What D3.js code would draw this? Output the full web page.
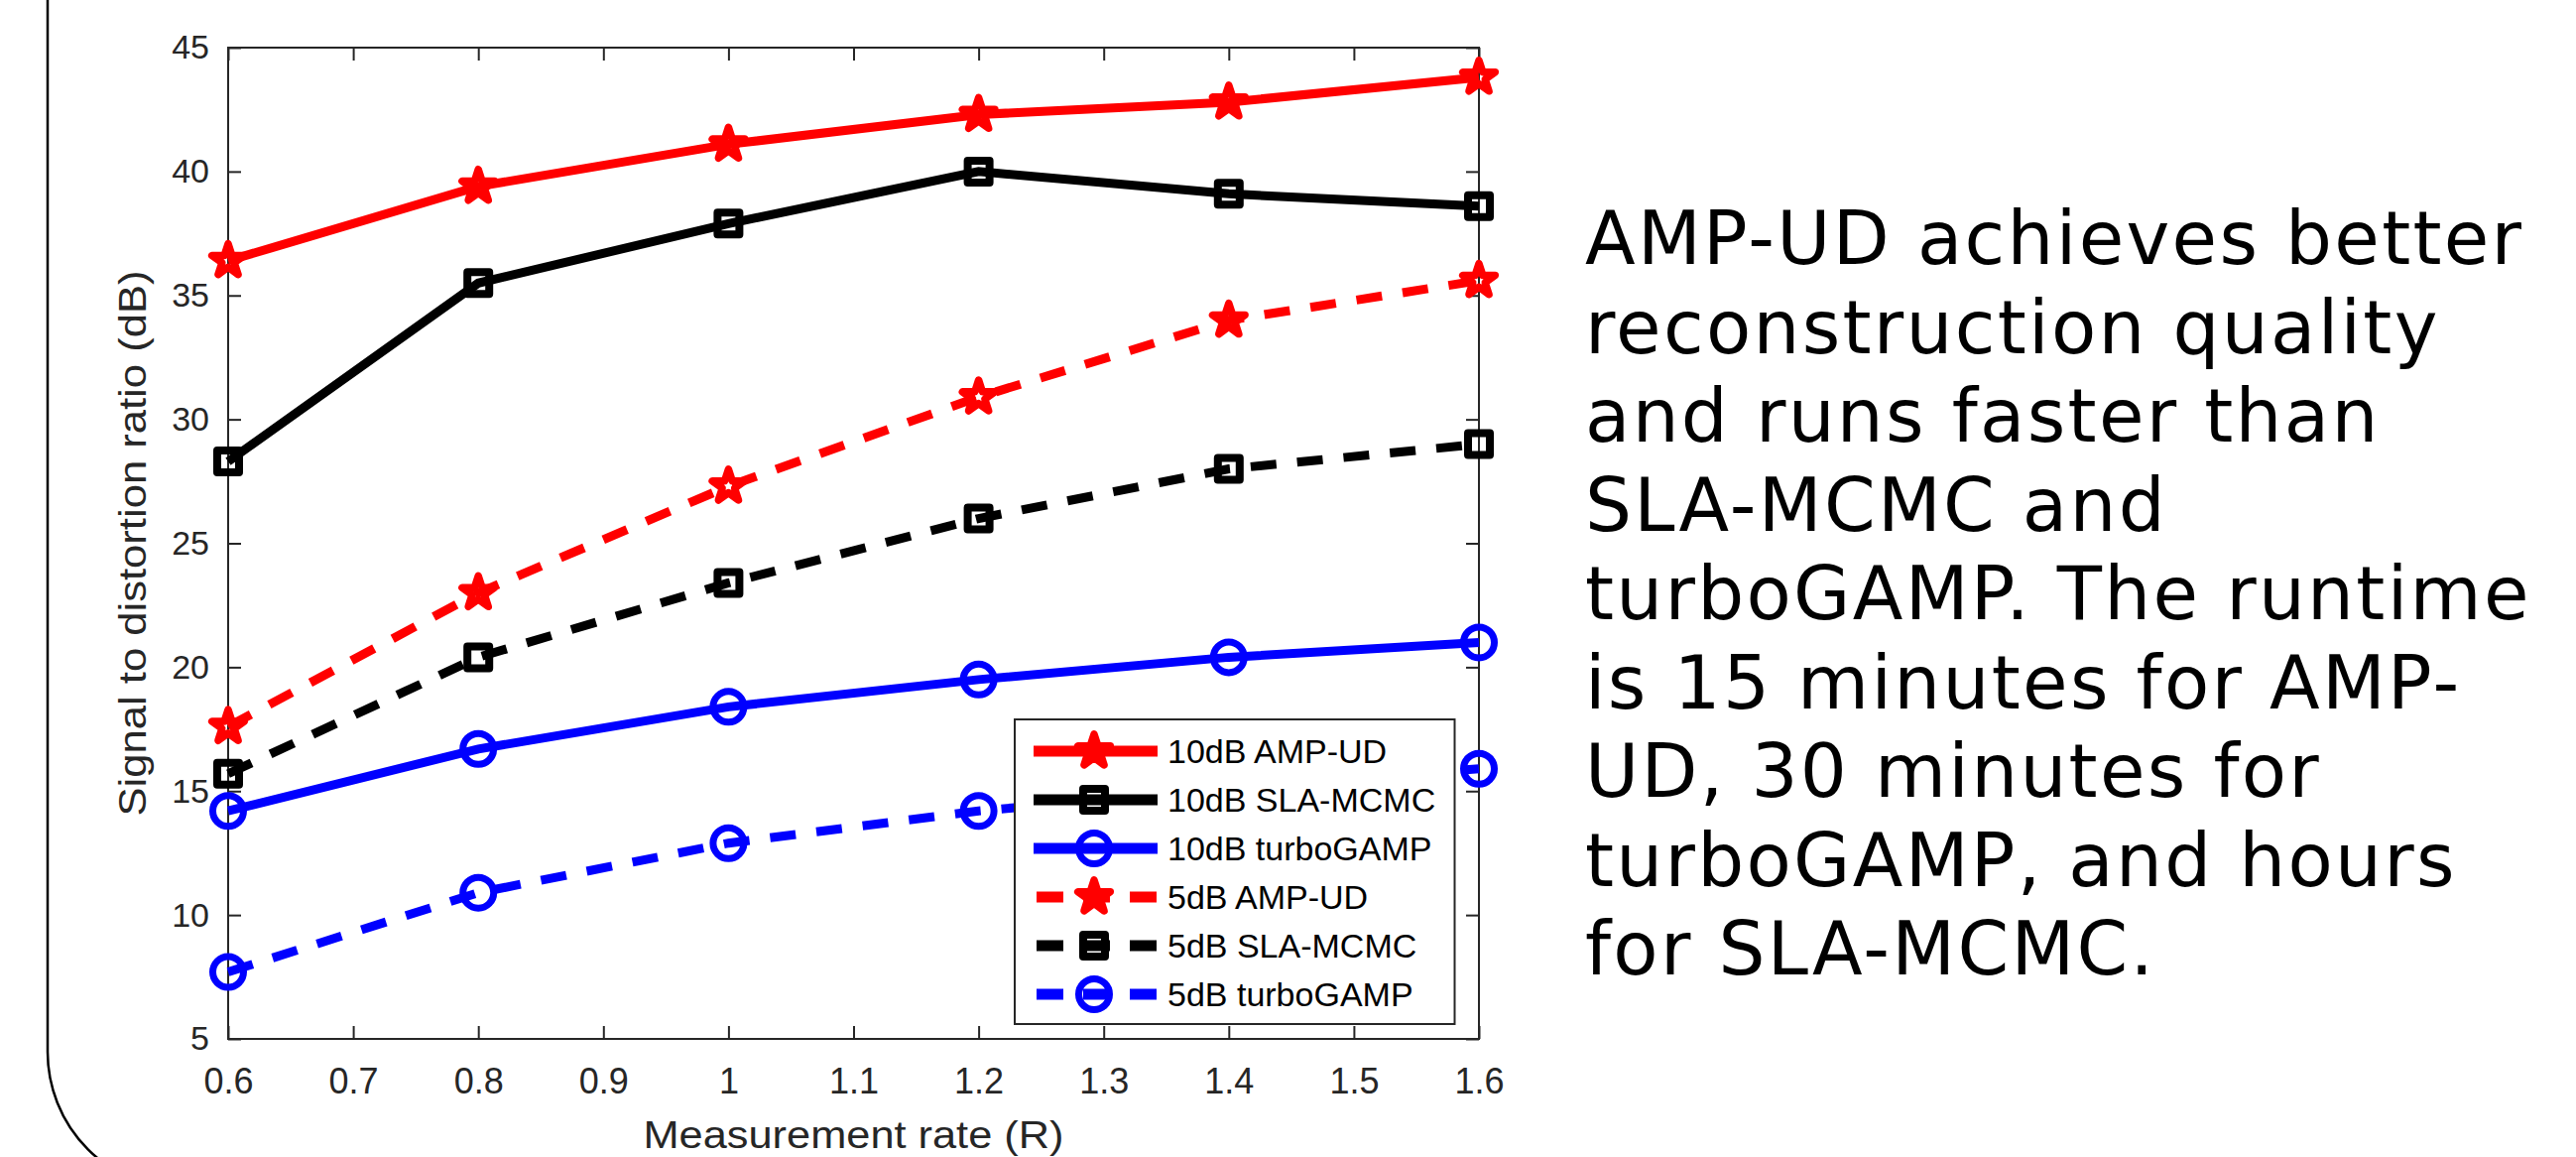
<!DOCTYPE html>
<html>
<head>
<meta charset="utf-8">
<script src="https://cdn.jsdelivr.net/npm/d3@7"></script>
<style>
  html, body { margin: 0; padding: 0; background: #fff; }
  svg { display: block; }
  .tick text { font-family: 'Liberation Sans', Arial, sans-serif; fill: #262626; }
  .tick line { stroke: #262626; stroke-width: 2; }
</style>
</head>
<body>
<div id="chart"></div>
<script>
const rates = [0.6, 0.8, 1.0, 1.2, 1.4, 1.6];
const amp10 = [36.4, 39.4, 41.1, 42.3, 42.8, 43.8];
const sla10 = [28.3, 35.5, 37.9, 40.0, 39.1, 38.6];
const turbo10 = [14.2, 16.7, 18.4, 19.5, 20.4, 21.0];
const amp5 = [17.6, 23.0, 27.3, 30.9, 34.0, 35.6];
const sla5 = [15.7, 20.4, 23.4, 26.0, 28.0, 29.0];
const turbo5 = [7.7, 10.9, 12.9, 14.2, 15.1, 15.9];

const seriesNames = ['10dB AMP-UD', '10dB SLA-MCMC', '10dB turboGAMP', '5dB AMP-UD', '5dB SLA-MCMC', '5dB turboGAMP'];

const xTicks = [0.6, 0.7, 0.8, 0.9, 1.0, 1.1, 1.2, 1.3, 1.4, 1.5, 1.6];
const xTickLabels = ['0.6', '0.7', '0.8', '0.9', '1', '1.1', '1.2', '1.3', '1.4', '1.5', '1.6'];
const yTicks = [5, 10, 15, 20, 25, 30, 35, 40, 45];

const noteLines = [
  'AMP-UD achieves better',
  'reconstruction quality',
  'and runs faster than',
  'SLA-MCMC and',
  'turboGAMP. The runtime',
  'is 15 minutes for AMP-',
  'UD, 30 minutes for',
  'turboGAMP, and hours',
  'for SLA-MCMC.'
];

const series = [
  { name: seriesNames[0], values: amp10, color: '#ff0000', dashed: false, marker: 'star' },
  { name: seriesNames[1], values: sla10, color: '#000000', dashed: false, marker: 'square' },
  { name: seriesNames[2], values: turbo10, color: '#0000ff', dashed: false, marker: 'circle' },
  { name: seriesNames[3], values: amp5, color: '#ff0000', dashed: true, marker: 'star' },
  { name: seriesNames[4], values: sla5, color: '#000000', dashed: true, marker: 'square' },
  { name: seriesNames[5], values: turbo5, color: '#0000ff', dashed: true, marker: 'circle' }
];

const W = 2597, H = 1166;
const plot = { left: 230, right: 1491, top: 48, bottom: 1047 };

const svg = d3.select('#chart').append('svg')
  .attr('width', W)
  .attr('height', H);

svg.append('rect').attr('width', W).attr('height', H).attr('fill', '#fff');

// slide frame edge on the left
svg.append('path')
  .attr('d', 'M48,0 V1060 A139,139 0 0 0 187,1199')
  .attr('fill', 'none')
  .attr('stroke', '#000')
  .attr('stroke-width', 2.5);

const x = d3.scaleLinear().domain([0.6, 1.6]).range([plot.left, plot.right]);
const y = d3.scaleLinear().domain([5, 45]).range([plot.bottom, plot.top]);

// axes with inward ticks
const tickLen = 13;
const gxb = svg.append('g')
  .attr('transform', `translate(0,${plot.bottom})`)
  .call(d3.axisBottom(x).tickValues(xTicks).tickSize(-tickLen).tickPadding(29)
    .tickFormat((d, i) => xTickLabels[i]));
gxb.selectAll('text').style('font-size', '36px');

svg.append('g')
  .attr('transform', `translate(0,${plot.top})`)
  .call(d3.axisTop(x).tickValues(xTicks).tickSize(-tickLen).tickFormat(''));

const gyl = svg.append('g')
  .attr('transform', `translate(${plot.left},0)`)
  .call(d3.axisLeft(y).tickValues(yTicks).tickSize(-tickLen).tickPadding(19));
gyl.selectAll('text').style('font-size', '34px');

svg.append('g')
  .attr('transform', `translate(${plot.right},0)`)
  .call(d3.axisRight(y).tickValues(yTicks).tickSize(-tickLen).tickFormat(''));

svg.selectAll('.domain').remove();

svg.append('rect')
  .attr('x', plot.left).attr('y', plot.top)
  .attr('width', plot.right - plot.left).attr('height', plot.bottom - plot.top)
  .attr('fill', 'none')
  .attr('stroke', '#262626')
  .attr('stroke-width', 2);

// axis labels
svg.append('text')
  .attr('x', (plot.left + plot.right) / 2)
  .attr('y', 1157)
  .attr('text-anchor', 'middle')
  .attr('textLength', 424)
  .attr('lengthAdjust', 'spacingAndGlyphs')
  .style('font-family', "'Liberation Sans', Arial, sans-serif")
  .style('font-size', '38px')
  .attr('fill', '#262626')
  .text('Measurement rate (R)');

svg.append('text')
  .attr('transform', `translate(147,${(plot.top + plot.bottom) / 2}) rotate(-90)`)
  .attr('text-anchor', 'middle')
  .attr('textLength', 550)
  .attr('lengthAdjust', 'spacingAndGlyphs')
  .style('font-family', "'Liberation Sans', Arial, sans-serif")
  .style('font-size', '39px')
  .attr('fill', '#262626')
  .text('Signal to distortion ratio (dB)');

// marker shapes
const symbols = {
  star: d3.symbol().type(d3.symbolStar).size(330),
  square: d3.symbol().type(d3.symbolSquare).size(484),
  circle: d3.symbol().type(d3.symbolCircle).size(755)
};
const markerStroke = { star: 7.5, square: 8, circle: 7 };

const line = d3.line()
  .x((d, i) => x(rates[i]))
  .y(d => y(d));

const lineW = 9;
const dash = '26,21';

series.forEach(s => {
  svg.append('path')
    .datum(s.values)
    .attr('d', line)
    .attr('fill', 'none')
    .attr('stroke', s.color)
    .attr('stroke-width', lineW)
    .attr('stroke-dasharray', s.dashed ? dash : null);

  svg.append('g').selectAll('path')
    .data(s.values)
    .enter().append('path')
    .attr('transform', (d, i) => `translate(${x(rates[i])},${y(d)})`)
    .attr('d', symbols[s.marker])
    .attr('fill', 'none')
    .attr('stroke', s.color)
    .attr('stroke-width', markerStroke[s.marker])
    .attr('stroke-linejoin', 'round');
});

// legend
const leg = { x: 1023, y: 725, w: 443.5, h: 307 };
const lg = svg.append('g');
lg.append('rect')
  .attr('x', leg.x).attr('y', leg.y)
  .attr('width', leg.w).attr('height', leg.h)
  .attr('fill', '#fff')
  .attr('stroke', '#262626')
  .attr('stroke-width', 2);

series.forEach((s, i) => {
  const cy = 757 + i * 49;
  lg.append('line')
    .attr('x1', s.dashed ? 1045 : 1042).attr('x2', 1167)
    .attr('y1', cy).attr('y2', cy)
    .attr('stroke', s.color)
    .attr('stroke-width', 11)
    .attr('stroke-dasharray', s.dashed ? '27,20' : null);
  lg.append('path')
    .attr('transform', `translate(1103,${cy})`)
    .attr('d', symbols[s.marker])
    .attr('fill', 'none')
    .attr('stroke', s.color)
    .attr('stroke-width', markerStroke[s.marker])
    .attr('stroke-linejoin', 'round');
  lg.append('text')
    .attr('x', 1177)
    .attr('y', cy)
    .attr('dy', '0.35em')
    .style('font-family', "'Liberation Sans', Arial, sans-serif")
    .style('font-size', '34px')
    .attr('fill', '#000')
    .text(s.name);
});

// note text on the right
svg.append('g').selectAll('text')
  .data(noteLines)
  .enter().append('text')
  .attr('x', 1598)
  .attr('y', (d, i) => 266 + i * 89.5)
  .style('font-family', "'DejaVu Sans', Verdana, sans-serif")
  .style('font-size', '74px')
  .style('letter-spacing', '2.3px')
  .attr('fill', '#000')
  .text(d => d);
</script>
</body>
</html>
